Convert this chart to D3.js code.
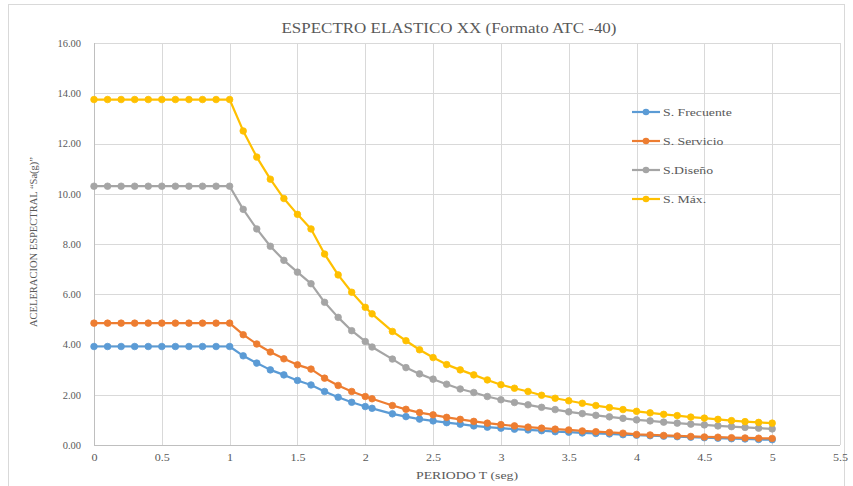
<!DOCTYPE html>
<html>
<head>
<meta charset="utf-8">
<script src="https://cdn.jsdelivr.net/npm/d3@7"></script>
<style>
  html, body { margin: 0; padding: 0; background: #fff; }
  svg { display: block; }
</style>
</head>
<body>
<svg id="chart" width="853" height="486"></svg>
<script>
// ---- DATA ----
const periods = [0,0.1,0.2,0.3,0.4,0.5,0.6,0.7,0.8,0.9,1.0,
  1.1,1.2,1.3,1.4,1.5,1.6,1.7,1.8,1.9,2.0,2.05,
  2.2,2.3,2.4,2.5,2.6,2.7,2.8,2.9,3.0,3.1,3.2,3.3,3.4,3.5,3.6,3.7,3.8,3.9,
  4.0,4.1,4.2,4.3,4.4,4.5,4.6,4.7,4.8,4.9,5.0];

const sFrecuente = [3.92,3.92,3.92,3.92,3.92,3.92,3.92,3.92,3.92,3.92,3.92,
  3.55,3.26,2.99,2.79,2.57,2.39,2.13,1.90,1.70,1.53,1.46,
  1.24,1.13,1.03,0.96,0.89,0.83,0.76,0.71,0.67,0.63,0.60,0.57,0.53,0.51,0.48,0.46,0.44,0.41,
  0.39,0.37,0.35,0.33,0.31,0.29,0.27,0.25,0.24,0.22,0.21];

const sServicio = [4.85,4.85,4.85,4.85,4.85,4.85,4.85,4.85,4.85,4.85,4.85,
  4.39,4.02,3.70,3.43,3.19,3.02,2.66,2.37,2.13,1.93,1.84,
  1.57,1.42,1.29,1.20,1.10,1.02,0.94,0.87,0.81,0.76,0.71,0.67,0.63,0.60,0.56,0.53,0.50,0.47,
  0.42,0.40,0.38,0.36,0.34,0.32,0.31,0.29,0.28,0.27,0.26];

const sDiseno = [10.3,10.3,10.3,10.3,10.3,10.3,10.3,10.3,10.3,10.3,10.3,
  9.38,8.60,7.91,7.35,6.88,6.42,5.68,5.08,4.55,4.12,3.90,
  3.42,3.08,2.83,2.62,2.42,2.23,2.09,1.93,1.80,1.69,1.60,1.50,1.41,1.32,1.25,1.18,1.12,1.06,
  1.00,0.96,0.91,0.87,0.83,0.80,0.76,0.73,0.70,0.67,0.64];

const sMax = [13.75,13.75,13.75,13.75,13.75,13.75,13.75,13.75,13.75,13.75,13.75,
  12.50,11.46,10.58,9.81,9.18,8.60,7.60,6.77,6.08,5.48,5.22,
  4.52,4.15,3.79,3.48,3.20,2.99,2.79,2.59,2.40,2.26,2.13,1.98,1.86,1.76,1.66,1.57,1.49,1.41,
  1.34,1.28,1.22,1.17,1.11,1.07,1.02,0.97,0.93,0.90,0.87];

const seriesNames = ["S. Frecuente", "S. Servicio", "S.Diseño", "S. Máx."];
const seriesColors = ["#5B9BD5", "#ED7D31", "#A5A5A5", "#FFC000"];
const seriesValues = [sFrecuente, sServicio, sDiseno, sMax];

const xTicks = [0,0.5,1,1.5,2,2.5,3,3.5,4,4.5,5,5.5];
const yTicks = [0,2,4,6,8,10,12,14,16];

const titleText = "ESPECTRO ELASTICO XX (Formato  ATC -40)";
const xTitle = "PERIODO T (seg)";
const yTitle = "ACELERACION ESPECTRAL \u201CSa(g)\u201D";

// ---- LAYOUT ----
const FONT = "'Liberation Serif', 'Times New Roman', 'DejaVu Serif', serif";
const TXT = "#595959";
const svg = d3.select("#chart");
const pLeft = 94, pRight = 840, pTop = 43, pBottom = 445;

const x = d3.scaleLinear().domain([0, 5.5]).range([pLeft, pRight]);
const y = d3.scaleLinear().domain([0, 16]).range([pBottom, pTop]);

// stretch text horizontally by a factor (reference text is wide)
function stretch(sel, factor) {
  sel.each(function() {
    const w = this.getComputedTextLength();
    d3.select(this).attr("textLength", w * factor).attr("lengthAdjust", "spacingAndGlyphs");
  });
}

// outer chart frame
svg.append("rect")
  .attr("x", 8.5).attr("y", 4.5).attr("width", 836).attr("height", 490)
  .attr("fill", "none").attr("stroke", "#d9d9d9").attr("stroke-width", 1);

// gridlines
svg.append("g").selectAll("line").data(yTicks).join("line")
  .attr("x1", pLeft).attr("x2", pRight)
  .attr("y1", d => Math.round(y(d)) + 0.5).attr("y2", d => Math.round(y(d)) + 0.5)
  .attr("stroke", d => d === 0 ? "#bfbfbf" : "#d9d9d9").attr("stroke-width", 1);

svg.append("g").selectAll("line").data(xTicks).join("line")
  .attr("y1", pTop).attr("y2", pBottom)
  .attr("x1", d => Math.round(x(d)) + 0.5).attr("x2", d => Math.round(x(d)) + 0.5)
  .attr("stroke", d => d === 0 ? "#bfbfbf" : "#d9d9d9").attr("stroke-width", 1);

// axes (labels only)
const yAxis = d3.axisLeft(y).tickValues(yTicks).tickFormat(d3.format(".2f")).tickSize(0).tickPadding(13);
const gy = svg.append("g").attr("transform", `translate(${pLeft},0)`).call(yAxis);
gy.attr("font-family", FONT).attr("font-size", 10.5);
gy.select(".domain").remove();
gy.selectAll("text").attr("fill", TXT);

const xAxis = d3.axisBottom(x).tickValues(xTicks).tickFormat(d => String(d)).tickSize(0).tickPadding(9);
const gx = svg.append("g").attr("transform", `translate(0,${pBottom})`).call(xAxis);
gx.attr("font-family", FONT).attr("font-size", 10.5);
gx.select(".domain").remove();
gx.selectAll("text").attr("fill", TXT);
stretch(gx.selectAll("text"), 1.15);

// series
const line = d3.line().x(d => x(d[0])).y(d => y(d[1]));
seriesValues.forEach((vals, i) => {
  const pts = periods.map((p, k) => [p, vals[k]]);
  const g = svg.append("g");
  g.append("path").datum(pts).attr("d", line)
    .attr("fill", "none").attr("stroke", seriesColors[i]).attr("stroke-width", 2.2)
    .attr("stroke-linejoin", "round");
  g.selectAll("circle").data(pts).join("circle")
    .attr("cx", d => x(d[0])).attr("cy", d => y(d[1])).attr("r", 3.3)
    .attr("fill", seriesColors[i]).attr("stroke", seriesColors[i]).attr("stroke-width", 0.8);
});

// title
const t = svg.append("text").attr("x", 449).attr("y", 33).attr("text-anchor", "middle")
  .attr("font-family", FONT).attr("font-size", 15).attr("fill", TXT).text(titleText);
t.attr("textLength", 335).attr("lengthAdjust", "spacingAndGlyphs");

// axis titles
const xt = svg.append("text").attr("x", 467).attr("y", 479).attr("text-anchor", "middle")
  .attr("font-family", FONT).attr("font-size", 11).attr("fill", TXT).text(xTitle);
xt.attr("textLength", 102).attr("lengthAdjust", "spacingAndGlyphs");
svg.append("text").attr("transform", "translate(37,242) rotate(-90)").attr("text-anchor", "middle")
  .attr("font-family", FONT).attr("font-size", 10.5).attr("fill", TXT).text(yTitle);

// legend
const lg = svg.append("g");
seriesNames.forEach((name, i) => {
  const ly = 112 + i * 29;
  lg.append("line").attr("x1", 632).attr("x2", 660).attr("y1", ly).attr("y2", ly)
    .attr("stroke", seriesColors[i]).attr("stroke-width", 2.2);
  lg.append("circle").attr("cx", 646).attr("cy", ly).attr("r", 3.3).attr("fill", seriesColors[i]);
  const lt = lg.append("text").attr("x", 663).attr("y", ly + 4)
    .attr("font-family", FONT).attr("font-size", 11).attr("fill", TXT).text(name);
  stretch(lt, 1.25);
});
</script>
</body>
</html>
